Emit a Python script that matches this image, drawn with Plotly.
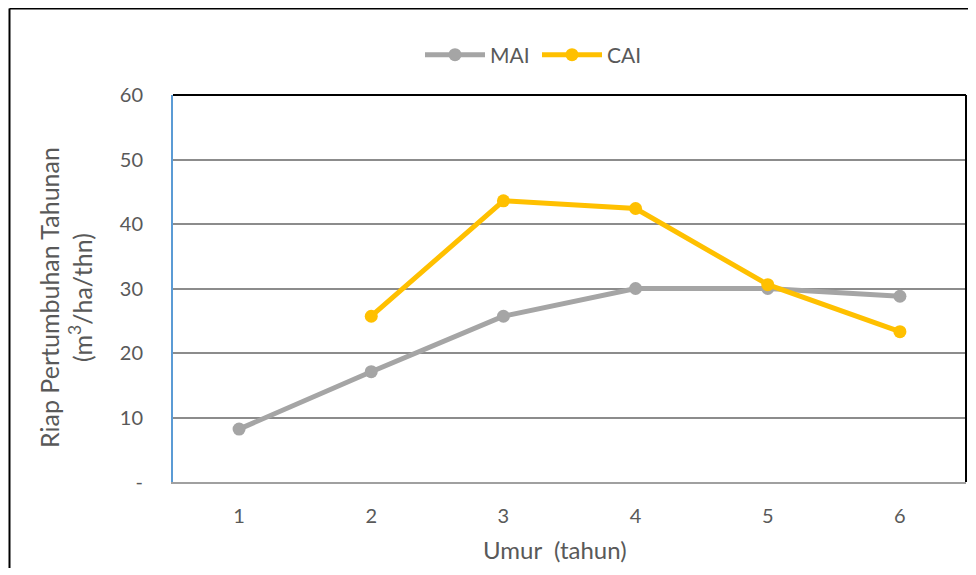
import plotly.graph_objects as go

umur = [1, 2, 3, 4, 5, 6]
mai = [8.2, 17.1, 25.7, 30.0, 30.0, 28.8]
cai = [None, 25.7, 43.6, 42.4, 30.6, 23.3]
y_ticks = [0, 10, 20, 30, 40, 50, 60]
y_tick_text = ["-", "10", "20", "30", "40", "50", "60"]

W, H = 964, 560
ml, mr, mt, mb = 165, 6, 87, 86
pw, ph = W - ml - mr, H - mt - mb

def px_x(px):  # figure pixel -> paper x
    return (px - ml) / pw

def px_y(py):  # figure pixel -> paper y
    return (H - mb - py) / ph

fig = go.Figure()
fig.add_trace(go.Scatter(x=umur, y=mai, name="MAI", mode="lines+markers",
                         line=dict(color="#A5A5A5", width=5),
                         marker=dict(color="#A5A5A5", size=13)))
fig.add_trace(go.Scatter(x=umur, y=cai, name="CAI", mode="lines+markers",
                         line=dict(color="#FFC000", width=5),
                         marker=dict(color="#FFC000", size=13)))

font = "Lato, 'Open Sans', sans-serif"
fig.update_layout(
    width=W, height=H,
    margin=dict(l=ml, r=mr, t=mt, b=mb),
    plot_bgcolor="white", paper_bgcolor="white",
    font=dict(family=font, color="#595959", size=20),
    showlegend=True,
    legend=dict(orientation="h", x=px_x(529), xanchor="center", y=px_y(47), yanchor="middle",
                itemwidth=60, entrywidth=42,
                font=dict(size=21, color="#595959")),
    xaxis=dict(range=[0.5, 6.5], tickvals=umur, ticktext=[str(u) for u in umur],
               showgrid=False, zeroline=False, showline=True, linecolor="#A0A0A0",
               linewidth=2, ticks="", ticklabelstandoff=15,
               tickfont=dict(size=20)),
    yaxis=dict(range=[0, 60], tickvals=y_ticks, ticktext=y_tick_text,
               showgrid=True, gridcolor="#8C8C8C", gridwidth=1.5, zeroline=False,
               showline=True, linecolor="#5B9BD5", linewidth=2, ticks="",
               ticklabelstandoff=24, tickfont=dict(size=20)),
)

fig.add_annotation(text="Umur  (tahun)", xref="paper", yref="paper",
                   x=px_x(547), y=px_y(541), xanchor="center", yanchor="middle",
                   showarrow=False, font=dict(size=24, color="#595959"))
fig.add_annotation(text="Riap Pertumbuhan Tahunan<br>(m<sup>3</sup>/ha/thn)",
                   xref="paper", yref="paper", textangle=-90,
                   x=px_x(57), y=px_y(289), xanchor="center", yanchor="middle",
                   showarrow=False, font=dict(size=25, color="#595959"))

# plot area top and right borders
fig.add_shape(type="line", xref="paper", yref="paper", x0=0, x1=1, y0=1, y1=1,
              line=dict(color="black", width=2))
fig.add_shape(type="line", xref="paper", yref="paper", x0=1, x1=1, y0=0, y1=1,
              line=dict(color="black", width=2))
# outer chart border (left and top)
ox = px_x(1.5)
oy = px_y(0.5)
fig.add_shape(type="line", xref="paper", yref="paper", x0=ox, x1=ox, y0=-0.3, y1=oy,
              line=dict(color="black", width=2))
fig.add_shape(type="line", xref="paper", yref="paper", x0=ox, x1=1.05, y0=oy, y1=oy,
              line=dict(color="black", width=2))

fig.write_html("out.html")
